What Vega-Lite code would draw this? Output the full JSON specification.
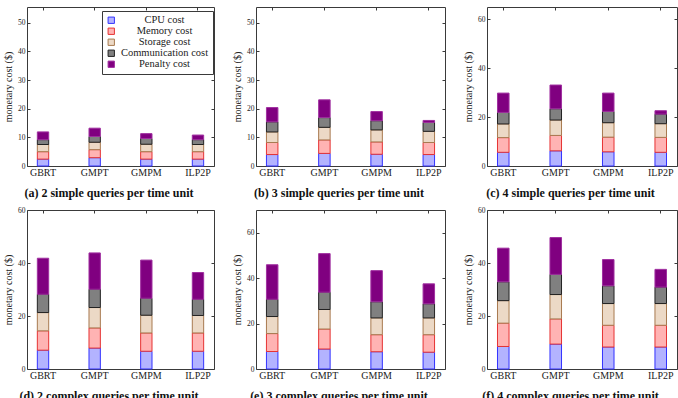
{
  "$schema": "https://vega.github.io/schema/vega-lite/v6.json",
  "padding": {"left": 3, "top": 6, "right": 0, "bottom": 0},
  "background": "white",
  "datasets": {
    "costs": [
      {"p": "a", "m": "GBRT", "CPU cost": 2.4, "Memory cost": 2.6, "Storage cost": 2.5, "Communication cost": 1.7, "Penalty cost": 2.7},
      {"p": "a", "m": "GMPT", "CPU cost": 2.9, "Memory cost": 2.8, "Storage cost": 2.6, "Communication cost": 2.0, "Penalty cost": 2.9},
      {"p": "a", "m": "GMPM", "CPU cost": 2.4, "Memory cost": 2.6, "Storage cost": 2.6, "Communication cost": 2.0, "Penalty cost": 1.7},
      {"p": "a", "m": "ILP2P", "CPU cost": 2.4, "Memory cost": 2.6, "Storage cost": 2.5, "Communication cost": 1.7, "Penalty cost": 1.6},
      {"p": "b", "m": "GBRT", "CPU cost": 4.0, "Memory cost": 4.2, "Storage cost": 3.7, "Communication cost": 3.5, "Penalty cost": 5.0},
      {"p": "b", "m": "GMPT", "CPU cost": 4.4, "Memory cost": 4.7, "Storage cost": 4.4, "Communication cost": 3.4, "Penalty cost": 6.2},
      {"p": "b", "m": "GMPM", "CPU cost": 4.1, "Memory cost": 4.3, "Storage cost": 4.2, "Communication cost": 3.2, "Penalty cost": 3.2},
      {"p": "b", "m": "ILP2P", "CPU cost": 4.0, "Memory cost": 4.2, "Storage cost": 3.9, "Communication cost": 3.1, "Penalty cost": 0.7},
      {"p": "c", "m": "GBRT", "CPU cost": 5.6, "Memory cost": 6.0, "Storage cost": 5.6, "Communication cost": 4.7, "Penalty cost": 7.9},
      {"p": "c", "m": "GMPT", "CPU cost": 6.2, "Memory cost": 6.3, "Storage cost": 6.3, "Communication cost": 4.6, "Penalty cost": 9.7},
      {"p": "c", "m": "GMPM", "CPU cost": 5.8, "Memory cost": 6.0, "Storage cost": 5.9, "Communication cost": 4.6, "Penalty cost": 7.5},
      {"p": "c", "m": "ILP2P", "CPU cost": 5.6, "Memory cost": 6.1, "Storage cost": 5.6, "Communication cost": 3.9, "Penalty cost": 1.4},
      {"p": "d", "m": "GBRT", "CPU cost": 7.1, "Memory cost": 7.3, "Storage cost": 6.9, "Communication cost": 6.9, "Penalty cost": 13.6},
      {"p": "d", "m": "GMPT", "CPU cost": 7.9, "Memory cost": 7.6, "Storage cost": 7.7, "Communication cost": 6.9, "Penalty cost": 13.7},
      {"p": "d", "m": "GMPM", "CPU cost": 6.7, "Memory cost": 6.9, "Storage cost": 6.7, "Communication cost": 6.4, "Penalty cost": 14.4},
      {"p": "d", "m": "ILP2P", "CPU cost": 6.7, "Memory cost": 6.9, "Storage cost": 6.6, "Communication cost": 6.1, "Penalty cost": 10.1},
      {"p": "e", "m": "GBRT", "CPU cost": 7.7, "Memory cost": 7.9, "Storage cost": 7.5, "Communication cost": 7.6, "Penalty cost": 15.2},
      {"p": "e", "m": "GMPT", "CPU cost": 8.8, "Memory cost": 8.8, "Storage cost": 8.6, "Communication cost": 7.6, "Penalty cost": 17.0},
      {"p": "e", "m": "GMPM", "CPU cost": 7.6, "Memory cost": 7.5, "Storage cost": 7.4, "Communication cost": 7.1, "Penalty cost": 13.7},
      {"p": "e", "m": "ILP2P", "CPU cost": 7.4, "Memory cost": 7.7, "Storage cost": 7.4, "Communication cost": 6.2, "Penalty cost": 8.8},
      {"p": "f", "m": "GBRT", "CPU cost": 8.5, "Memory cost": 8.8, "Storage cost": 8.5, "Communication cost": 7.1, "Penalty cost": 12.7},
      {"p": "f", "m": "GMPT", "CPU cost": 9.4, "Memory cost": 9.5, "Storage cost": 9.2, "Communication cost": 7.6, "Penalty cost": 13.9},
      {"p": "f", "m": "GMPM", "CPU cost": 8.3, "Memory cost": 8.2, "Storage cost": 8.2, "Communication cost": 6.7, "Penalty cost": 9.9},
      {"p": "f", "m": "ILP2P", "CPU cost": 8.3, "Memory cost": 8.2, "Storage cost": 8.2, "Communication cost": 6.2, "Penalty cost": 6.7}
    ]
  },
  "data": {"name": "costs"},
  "bounds": "flush",
  "columns": 3,
  "spacing": {"row": 44, "column": 42},
  "concat": [
    {
      "width": 187, "height": 159,
      "title": "(a) 2 simple queries per time unit",
      "transform": [
        {"filter": {"field": "p", "equal": "a"}},
        {"fold": ["CPU cost", "Memory cost", "Storage cost", "Communication cost", "Penalty cost"], "as": ["cost", "value"]},
        {"window": [{"op": "row_number", "as": "layer"}], "groupby": ["m"]}
      ],
      "layer": [
        {"mark": {"type": "bar", "strokeWidth": 1},
         "encoding": {
           "x": {"field": "m", "type": "nominal", "sort": ["GBRT", "GMPT", "GMPM", "ILP2P"], "scale": {"paddingInner": 0.78, "paddingOuter": 0.2}, "axis": {"title": null}},
           "y": {"field": "value", "type": "quantitative", "stack": "zero", "scale": {"domain": [0, 55.5], "nice": false}, "axis": {"title": "monetary cost ($)", "values": [0, 10, 20, 30, 40, 50]}},
           "order": {"field": "layer", "type": "quantitative", "sort": "ascending"},
           "fill": {"field": "cost", "type": "nominal", "sort": ["CPU cost", "Memory cost", "Storage cost", "Communication cost", "Penalty cost"], "scale": {"domain": ["CPU cost", "Memory cost", "Storage cost", "Communication cost", "Penalty cost"], "range": ["#b3b3ff", "#ffb3b3", "#ecd9c6", "#808080", "#800080"]}, "legend": {"title": null, "orient": "none", "legendX": 75, "legendY": 4}},
           "stroke": {"field": "cost", "type": "nominal", "sort": ["CPU cost", "Memory cost", "Storage cost", "Communication cost", "Penalty cost"], "scale": {"domain": ["CPU cost", "Memory cost", "Storage cost", "Communication cost", "Penalty cost"], "range": ["#3333ff", "#e63333", "#a87a50", "#222222", "#a030a0"]}, "legend": {"title": null, "orient": "none", "legendX": 75, "legendY": 4}}
         }},
        {"mark": {"type": "bar", "opacity": 0},
         "encoding": {
           "x": {"field": "m", "type": "nominal", "sort": ["GBRT", "GMPT", "GMPM", "ILP2P"], "axis": {"orient": "top", "title": null}},
           "y": {"field": "value", "type": "quantitative", "axis": {"orient": "right", "title": null, "values": [0, 10, 20, 30, 40, 50]}}
         }}
      ],
      "resolve": {"axis": {"x": "independent", "y": "independent"}}
    },
    {
      "width": 189, "height": 159,
      "title": "(b) 3 simple queries per time unit",
      "transform": [
        {"filter": {"field": "p", "equal": "b"}},
        {"fold": ["CPU cost", "Memory cost", "Storage cost", "Communication cost", "Penalty cost"], "as": ["cost", "value"]},
        {"window": [{"op": "row_number", "as": "layer"}], "groupby": ["m"]}
      ],
      "layer": [
        {"mark": {"type": "bar", "strokeWidth": 1},
         "encoding": {
           "x": {"field": "m", "type": "nominal", "sort": ["GBRT", "GMPT", "GMPM", "ILP2P"], "scale": {"paddingInner": 0.78, "paddingOuter": 0.2}, "axis": {"title": null}},
           "y": {"field": "value", "type": "quantitative", "stack": "zero", "scale": {"domain": [0, 55.5], "nice": false}, "axis": {"title": "monetary cost ($)", "values": [0, 10, 20, 30, 40, 50]}},
           "order": {"field": "layer", "type": "quantitative", "sort": "ascending"},
           "fill": {"field": "cost", "type": "nominal"},
           "stroke": {"field": "cost", "type": "nominal"}
         }},
        {"mark": {"type": "bar", "opacity": 0},
         "encoding": {
           "x": {"field": "m", "type": "nominal", "sort": ["GBRT", "GMPT", "GMPM", "ILP2P"], "axis": {"orient": "top", "title": null}},
           "y": {"field": "value", "type": "quantitative", "axis": {"orient": "right", "title": null, "values": [0, 10, 20, 30, 40, 50]}}
         }}
      ],
      "resolve": {"axis": {"x": "independent", "y": "independent"}}
    },
    {
      "width": 190, "height": 159,
      "title": "(c) 4 simple queries per time unit",
      "transform": [
        {"filter": {"field": "p", "equal": "c"}},
        {"fold": ["CPU cost", "Memory cost", "Storage cost", "Communication cost", "Penalty cost"], "as": ["cost", "value"]},
        {"window": [{"op": "row_number", "as": "layer"}], "groupby": ["m"]}
      ],
      "layer": [
        {"mark": {"type": "bar", "strokeWidth": 1},
         "encoding": {
           "x": {"field": "m", "type": "nominal", "sort": ["GBRT", "GMPT", "GMPM", "ILP2P"], "scale": {"paddingInner": 0.78, "paddingOuter": 0.2}, "axis": {"title": null}},
           "y": {"field": "value", "type": "quantitative", "stack": "zero", "scale": {"domain": [0, 65], "nice": false}, "axis": {"title": "monetary cost ($)", "values": [0, 20, 40, 60]}},
           "order": {"field": "layer", "type": "quantitative", "sort": "ascending"},
           "fill": {"field": "cost", "type": "nominal"},
           "stroke": {"field": "cost", "type": "nominal"}
         }},
        {"mark": {"type": "bar", "opacity": 0},
         "encoding": {
           "x": {"field": "m", "type": "nominal", "sort": ["GBRT", "GMPT", "GMPM", "ILP2P"], "axis": {"orient": "top", "title": null}},
           "y": {"field": "value", "type": "quantitative", "axis": {"orient": "right", "title": null, "values": [0, 20, 40, 60]}}
         }}
      ],
      "resolve": {"axis": {"x": "independent", "y": "independent"}}
    },
    {
      "width": 187, "height": 159,
      "title": "(d) 2 complex queries per time unit",
      "transform": [
        {"filter": {"field": "p", "equal": "d"}},
        {"fold": ["CPU cost", "Memory cost", "Storage cost", "Communication cost", "Penalty cost"], "as": ["cost", "value"]},
        {"window": [{"op": "row_number", "as": "layer"}], "groupby": ["m"]}
      ],
      "layer": [
        {"mark": {"type": "bar", "strokeWidth": 1},
         "encoding": {
           "x": {"field": "m", "type": "nominal", "sort": ["GBRT", "GMPT", "GMPM", "ILP2P"], "scale": {"paddingInner": 0.78, "paddingOuter": 0.2}, "axis": {"title": null}},
           "y": {"field": "value", "type": "quantitative", "stack": "zero", "scale": {"domain": [0, 60], "nice": false}, "axis": {"title": "monetary cost ($)", "values": [0, 20, 40, 60]}},
           "order": {"field": "layer", "type": "quantitative", "sort": "ascending"},
           "fill": {"field": "cost", "type": "nominal"},
           "stroke": {"field": "cost", "type": "nominal"}
         }},
        {"mark": {"type": "bar", "opacity": 0},
         "encoding": {
           "x": {"field": "m", "type": "nominal", "sort": ["GBRT", "GMPT", "GMPM", "ILP2P"], "axis": {"orient": "top", "title": null}},
           "y": {"field": "value", "type": "quantitative", "axis": {"orient": "right", "title": null, "values": [0, 20, 40, 60]}}
         }}
      ],
      "resolve": {"axis": {"x": "independent", "y": "independent"}}
    },
    {
      "width": 189, "height": 159,
      "title": "(e) 3 complex queries per time unit",
      "transform": [
        {"filter": {"field": "p", "equal": "e"}},
        {"fold": ["CPU cost", "Memory cost", "Storage cost", "Communication cost", "Penalty cost"], "as": ["cost", "value"]},
        {"window": [{"op": "row_number", "as": "layer"}], "groupby": ["m"]}
      ],
      "layer": [
        {"mark": {"type": "bar", "strokeWidth": 1},
         "encoding": {
           "x": {"field": "m", "type": "nominal", "sort": ["GBRT", "GMPT", "GMPM", "ILP2P"], "scale": {"paddingInner": 0.78, "paddingOuter": 0.2}, "axis": {"title": null}},
           "y": {"field": "value", "type": "quantitative", "stack": "zero", "scale": {"domain": [0, 70], "nice": false}, "axis": {"title": "monetary cost ($)", "values": [0, 20, 40, 60]}},
           "order": {"field": "layer", "type": "quantitative", "sort": "ascending"},
           "fill": {"field": "cost", "type": "nominal"},
           "stroke": {"field": "cost", "type": "nominal"}
         }},
        {"mark": {"type": "bar", "opacity": 0},
         "encoding": {
           "x": {"field": "m", "type": "nominal", "sort": ["GBRT", "GMPT", "GMPM", "ILP2P"], "axis": {"orient": "top", "title": null}},
           "y": {"field": "value", "type": "quantitative", "axis": {"orient": "right", "title": null, "values": [0, 20, 40, 60]}}
         }}
      ],
      "resolve": {"axis": {"x": "independent", "y": "independent"}}
    },
    {
      "width": 190, "height": 159,
      "title": "(f) 4 complex queries per time unit",
      "transform": [
        {"filter": {"field": "p", "equal": "f"}},
        {"fold": ["CPU cost", "Memory cost", "Storage cost", "Communication cost", "Penalty cost"], "as": ["cost", "value"]},
        {"window": [{"op": "row_number", "as": "layer"}], "groupby": ["m"]}
      ],
      "layer": [
        {"mark": {"type": "bar", "strokeWidth": 1},
         "encoding": {
           "x": {"field": "m", "type": "nominal", "sort": ["GBRT", "GMPT", "GMPM", "ILP2P"], "scale": {"paddingInner": 0.78, "paddingOuter": 0.2}, "axis": {"title": null}},
           "y": {"field": "value", "type": "quantitative", "stack": "zero", "scale": {"domain": [0, 60], "nice": false}, "axis": {"title": "monetary cost ($)", "values": [0, 20, 40, 60]}},
           "order": {"field": "layer", "type": "quantitative", "sort": "ascending"},
           "fill": {"field": "cost", "type": "nominal"},
           "stroke": {"field": "cost", "type": "nominal"}
         }},
        {"mark": {"type": "bar", "opacity": 0},
         "encoding": {
           "x": {"field": "m", "type": "nominal", "sort": ["GBRT", "GMPT", "GMPM", "ILP2P"], "axis": {"orient": "top", "title": null}},
           "y": {"field": "value", "type": "quantitative", "axis": {"orient": "right", "title": null, "values": [0, 20, 40, 60]}}
         }}
      ],
      "resolve": {"axis": {"x": "independent", "y": "independent"}}
    }
  ],
  "config": {
    "font": "Liberation Serif",
    "view": {"stroke": "#3a3a3a", "strokeWidth": 1},
    "axis": {
      "grid": false,
      "domain": false,
      "tickColor": "#3a3a3a",
      "tickSize": -3,
      "labelFont": "Liberation Serif",
      "labelColor": "#222222",
      "titleFont": "Liberation Serif",
      "titleFontWeight": "normal",
      "titleColor": "#222222"
    },
    "axisX": {"labelFontSize": 10, "labelAngle": 0, "labelPadding": 4},
    "axisY": {"labelFontSize": 7.5, "labelPadding": 5, "titleFontSize": 10, "titlePadding": 4},
    "axisTop": {"labels": false},
    "axisRight": {"labels": false},
    "title": {"orient": "bottom", "anchor": "middle", "frame": "bounds", "font": "Liberation Serif", "fontSize": 12, "fontWeight": "bold", "color": "#111111", "offset": 11},
    "legend": {
      "labelFont": "Liberation Serif",
      "labelFontSize": 10.5,
      "labelColor": "#222222",
      "labelAlign": "center",
      "labelOffset": 48,
      "symbolType": "square",
      "symbolSize": 40,
      "symbolStrokeWidth": 1,
      "rowPadding": 0,
      "padding": 4,
      "fillColor": "white",
      "strokeColor": "#3a3a3a"
    }
  }
}
